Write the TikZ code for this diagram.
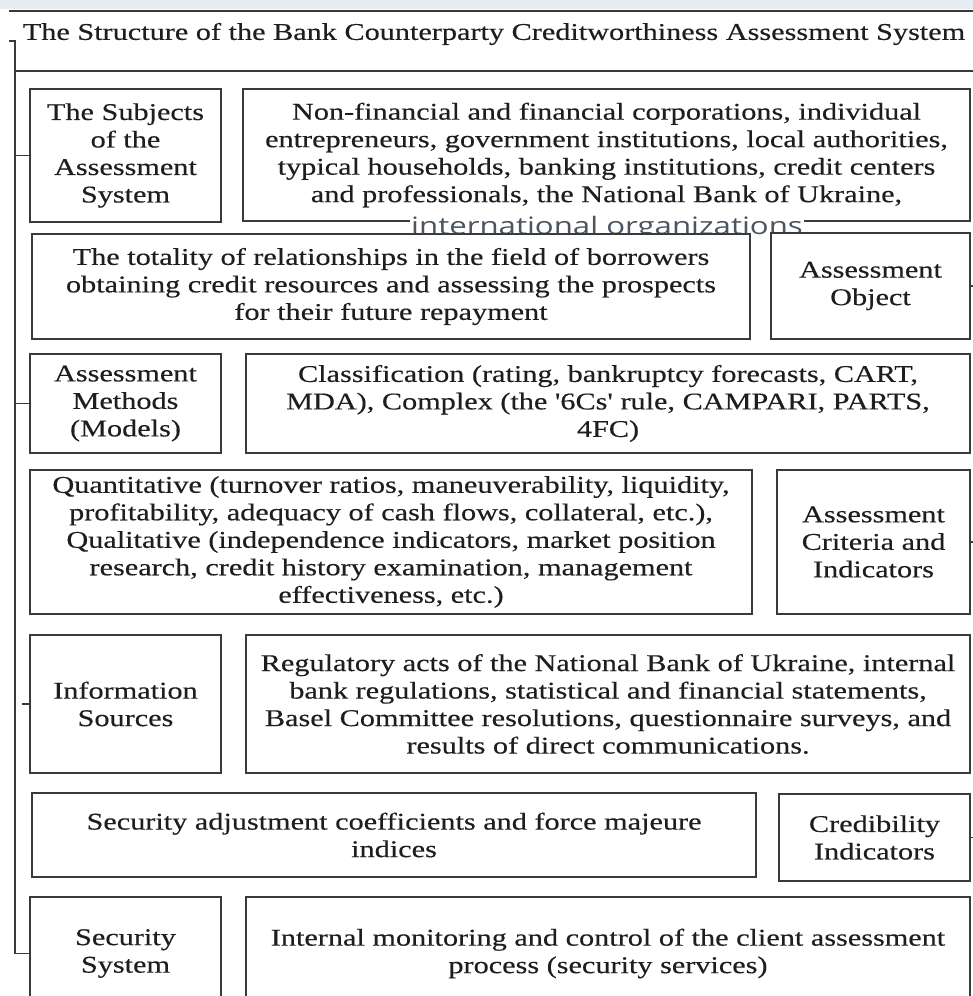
\documentclass[tikz,border=0pt]{standalone}
\usepackage{fontspec}
\setmainfont[FakeStretch=1.26,FakeBold=0.3]{Liberation Serif}
\newfontfamily\quotefont[FakeStretch=1.26,FakeBold=0.3]{Liberation Serif}
\newfontfamily\intlfont[FakeStretch=1.3]{Open Sans}
\usepackage{xcolor}
\usepackage{tikz}
\usetikzlibrary{calc}
\definecolor{ink}{HTML}{1E1E1E}
\definecolor{rule}{HTML}{3A3A3A}
\definecolor{band}{HTML}{E6ECF2}
\definecolor{slate}{HTML}{4A5561}
\newcommand{\sq}{{\quotefont'}}
\tikzset{
  line/.style={draw=rule, line width=1.6pt},
  box/.style={draw=rule, line width=1.6pt, fill=white, align=center, inner sep=0pt,
    text=ink, font=\fontsize{24}{27.5}\selectfont},
  lab/.style={text=ink, font=\fontsize{24}{27.5}\selectfont},
  labs/.style={text=slate, fill=white, inner sep=1pt, font=\intlfont\fontsize{24}{26}\selectfont},
}

\begin{document}
\begin{tikzpicture}[x=1pt,y=-1pt]
  \clip (0,0) rectangle (973,996);
  \fill[white] (0,0) rectangle (973,996);
  \fill[band] (0,0) rectangle (973,9);
  % title strip
  \draw[line] (9,11) -- (973,11);
  \node[lab] (title) at (494,34) {The Structure of the Bank Counterparty Creditworthiness Assessment System};
  \draw[line] (15,71) -- (973,71);
  % rows
  \node[box, minimum width=191, minimum height=133] (subj) at (125.5,155.5) {The Subjects\\of the\\Assessment\\System};
  \node[box, minimum width=727, minimum height=132] (nonfin) at (606.5,155) {Non-financial and financial corporations, individual\\entrepreneurs, government institutions, local authorities,\\typical households, banking institutions, credit centers\\and professionals, the National Bank of Ukraine,};
  \node[labs] (intl) at (607,228) {international organizations};
  \node[box, minimum width=718, minimum height=105] (tot) at (391,286.5) {The totality of relationships in the field of borrowers\\obtaining credit resources and assessing the prospects\\for their future repayment};
  \node[box, minimum width=199, minimum height=106] (obj) at (870.5,286) {Assessment\\Object};
  \node[box, minimum width=191, minimum height=99] (meth) at (125.5,403.5) {Assessment\\Methods\\(Models)};
  \node[box, minimum width=724, minimum height=99] (cls) at (608,403.5) {Classification (rating, bankruptcy forecasts, CART,\\MDA), Complex (the \sq6Cs\sq{} rule, CAMPARI, PARTS,\\4FC)};
  \node[box, minimum width=722, minimum height=144] (quant) at (391,542) {Quantitative (turnover ratios, maneuverability, liquidity,\\profitability, adequacy of cash flows, collateral, etc.),\\Qualitative (independence indicators, market position\\research, credit history examination, management\\effectiveness, etc.)};
  \node[box, minimum width=193, minimum height=144] (crit) at (873.5,542) {Assessment\\Criteria and\\Indicators};
  \node[box, minimum width=191, minimum height=138] (info) at (125.5,704) {Information\\Sources};
  \node[box, minimum width=724, minimum height=138] (reg) at (608,704) {Regulatory acts of the National Bank of Ukraine, internal\\bank regulations, statistical and financial statements,\\Basel Committee resolutions, questionnaire surveys, and\\results of direct communications.};
  \node[box, minimum width=724, minimum height=84] (adj) at (394,835) {Security adjustment coefficients and force majeure\\indices};
  \node[box, minimum width=191, minimum height=87] (cred) at (874.5,837.5) {Credibility\\Indicators};
  \node[box, minimum width=191, minimum height=113] (sec) at (125.5,953.5) {Security\\System};
  \node[box, minimum width=724, minimum height=113] (intm) at (608,953.5) {Internal monitoring and control of the client assessment\\process (security services)};
  % left bracket
  \coordinate (brk) at (15,41);
  \coordinate (rgt) at (973,0);
  \coordinate (infoend) at (22,0);
  \draw[line] (9,41) -- (brk) -- (brk |- sec.west) -- (sec.west);
  \draw[line] (subj.west) -- (subj.west -| brk);
  \draw[line] (meth.west) -- (meth.west -| brk);
  \draw[line] (info.west) -- (info.west -| infoend);
  % right ticks
  \draw[line] (obj.east) -- (obj.east -| rgt);
  \draw[line] (crit.east) -- (crit.east -| rgt);
  \draw[line] (cred.east) -- (cred.east -| rgt);
\end{tikzpicture}
\end{document}
